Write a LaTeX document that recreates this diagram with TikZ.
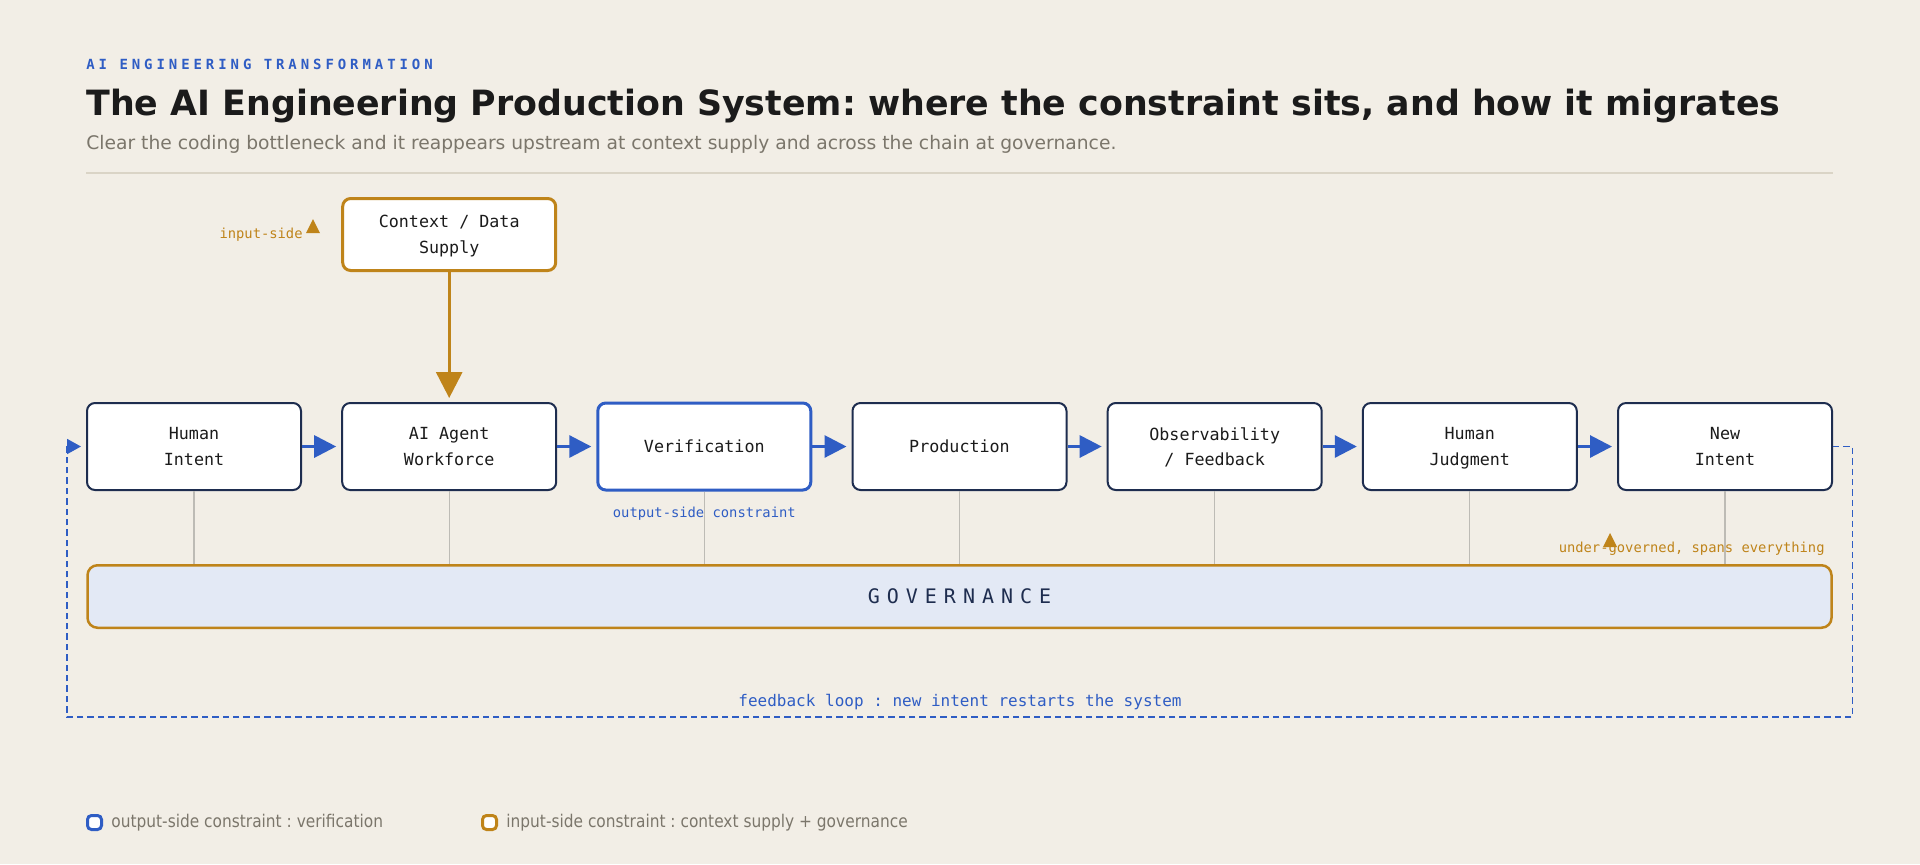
\documentclass[tikz,border=0pt]{standalone}
\usepackage{fontspec}
\setmainfont{DejaVu Sans}
\setmonofont{DejaVu Sans Mono}
\newfontfamily\kickerfont[LetterSpace=28]{DejaVu Sans Mono}
\newfontfamily\govfont[LetterSpace=35]{DejaVu Sans Mono}
\newfontfamily\legendfont[FakeStretch=0.88]{DejaVu Sans}
\usetikzlibrary{arrows.meta,positioning}

\definecolor{paper}{HTML}{F2EEE6}
\definecolor{flowblue}{HTML}{2F5DC4}
\definecolor{inkdark}{HTML}{1B1B1B}
\definecolor{navy}{HTML}{1E2D4F}
\definecolor{gold}{HTML}{BF841A}
\definecolor{mutedgray}{HTML}{7B766B}
\definecolor{govfill}{HTML}{E3E9F5}
\definecolor{tiegray}{HTML}{BDBBB5}
\definecolor{rulegray}{HTML}{DAD4C6}

\begin{document}
\frenchspacing
\begin{tikzpicture}[x=0.5pt, y=-0.5pt,
  stage/.style={draw=navy, line width=1pt, fill=white, rounded corners=4pt,
    minimum width=107pt, minimum height=43.5pt, inner sep=0pt, align=center,
    text depth=0pt, text=inkdark, font=\ttfamily\fontsize{8.35}{12.8}\selectfont},
  flow/.style={flowblue, line width=1.5pt, -{Triangle[length=11pt,width=11pt]}, shorten >=2.5pt},
  feed/.style={gold, line width=1.5pt, -{Triangle[length=13pt,width=13pt]}, shorten >=2pt},
  tie/.style={tiegray, line width=0.6pt},
  fbloop/.style={flowblue, line width=0.9pt, dash pattern=on 3.2pt off 2pt,
    -{Triangle[length=7pt,width=7.5pt]}, shorten >=2.5pt},
  note/.style={inner sep=0pt, font=\ttfamily\fontsize{6.9}{8}\selectfont},
  swatch/.style={fill=white, line width=1.5pt, rounded corners=2pt,
    minimum size=7pt, inner sep=0pt},
  legend/.style={inner sep=0pt, text=mutedgray, font=\legendfont\fontsize{8.75}{10}\selectfont}]

  % 背景
  \fill[paper] (0,0) rectangle (1920,864);
  \useasboundingbox (0,0) rectangle (1920,864);

  % 标题
  \node[anchor=base west, inner sep=0pt, text=flowblue,
    font=\kickerfont\bfseries\fontsize{7}{8}\selectfont] (kicker) at (86,69) {AI ENGINEERING TRANSFORMATION};
  \node[anchor=base west, inner sep=0pt, text=inkdark,
    font=\bfseries\fontsize{17.4}{20}\selectfont] (title) at (86,115)
    {The AI Engineering Production System: where the constraint sits, and how it migrates};
  \node[anchor=base west, inner sep=0pt, text=mutedgray,
    font=\fontsize{9.35}{11}\selectfont] (subtitle) at (86,149)
    {Clear the coding bottleneck and it reappears upstream at context supply and across the chain at governance.};
  \draw[rulegray, line width=0.6pt] (86,173) -- (1833,173);

  % 主链
  \node[stage] (intent) at (194,446.5) {Human\\Intent};
  \node[stage] (agents) at (449.2,446.5) {AI Agent\\Workforce};
  \node[stage, draw=flowblue, line width=1.5pt, minimum width=106.5pt] (verify) at (704.3,446.5) {Verification};
  \node[stage] (prod) at (959.5,446.5) {Production};
  \node[stage] (observe) at (1214.7,446.5) {Observability\\/ Feedback};
  \node[stage] (judge) at (1469.8,446.5) {Human\\Judgment};
  \node[stage] (newintent) at (1725,446.5) {New\\Intent};

  \foreach \a/\b in {intent/agents, agents/verify, verify/prod, prod/observe, observe/judge, judge/newintent}
    \draw[flow] (\a) -- (\b);

  % 上游输入
  \node[stage, draw=gold, line width=1.5pt, minimum width=106.5pt, minimum height=36pt] (context) at (449.2,234.5) {Context / Data\\Supply};
  \draw[feed] (context) -- (agents);
  \node[note, anchor=base east, text=gold] (inlabel) at (303,238.5) {input-side};
  \fill[gold] (306,233) -- (320,233) -- (313,219) -- cycle;

  % 治理层
  \node[draw=gold, line width=1.25pt, fill=govfill, rounded corners=5pt,
    minimum width=872pt, minimum height=31.25pt, inner sep=0pt,
    text=navy, font=\govfont\fontsize{10}{12}\selectfont] (gov) at (959.5,596.5) {GOVERNANCE};
  \foreach \s in {intent, agents, verify, prod, observe, judge, newintent}
    \draw[tie] (\s.south) -- (\s.south |- gov.north);

  \node[note, anchor=base, text=flowblue] (outlabel) at (704.3,517) {output-side constraint};
  \node[note, anchor=base east, text=gold] (govlabel) at (1825,552) {under-governed, spans everything};
  \fill[gold] (1603,547) -- (1617,547) -- (1610,533) -- cycle;

  % 反馈回路
  \coordinate (loopR) at (1852.5,717);
  \coordinate (loopL) at (67,717);
  \draw[fbloop] (newintent.east) -| (loopR) -- (loopL) |- (intent.west);
  \node[anchor=base, inner sep=0pt, text=flowblue,
    font=\ttfamily\fontsize{8}{10}\selectfont] (looplabel) at (960,706) {feedback loop : new intent restarts the system};

  % 图例
  \node[swatch, draw=flowblue] (keyout) at (94.5,822.5) {};
  \node[legend, right=4pt of keyout] (keyouttext) {output-side constraint : verification};
  \node[swatch, draw=gold] (keyin) at (489.5,822.5) {};
  \node[legend, right=4pt of keyin] (keyintext) {input-side constraint : context supply + governance};
\end{tikzpicture}
\end{document}
